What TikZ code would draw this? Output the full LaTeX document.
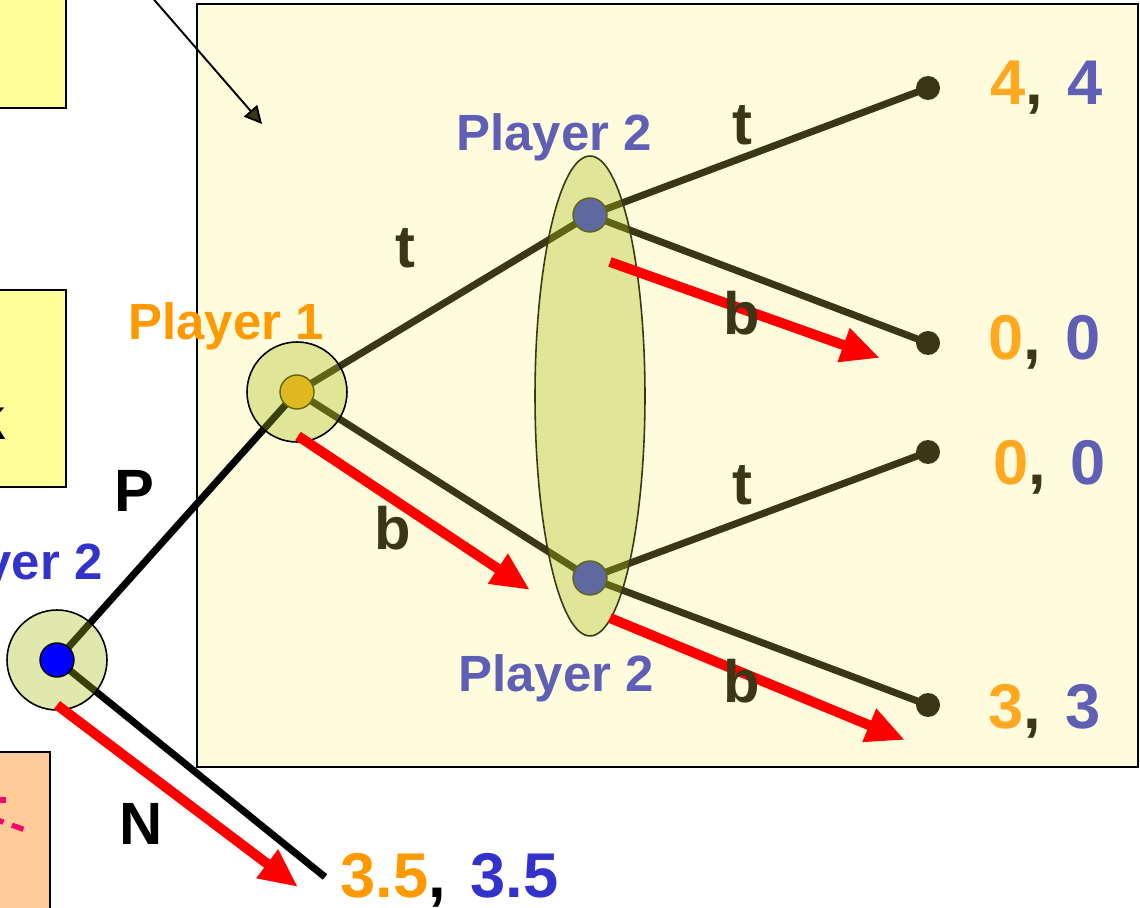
\documentclass[tikz,border=0pt]{standalone}
\usepackage{fontspec}
\setmainfont{Liberation Sans}
\usetikzlibrary{arrows.meta,shapes.geometric,backgrounds}
\definecolor{branchdark}{HTML}{3B3616}
\definecolor{boxcream}{HTML}{FFFCDD}
\definecolor{noteyellow}{HTML}{FFFF99}
\definecolor{noteorange}{HTML}{FFCC99}
\definecolor{notepink}{HTML}{FF0066}
\definecolor{discgreen}{HTML}{A5BC10}
\definecolor{rootblue}{HTML}{3333CC}
\definecolor{onegold}{HTML}{E0B820}
\definecolor{twoslate}{HTML}{6068A0}
\definecolor{dotrim}{HTML}{5F6614}
\definecolor{payorange}{HTML}{FFA820}
\definecolor{payblue}{HTML}{5F5FB5}
\definecolor{oneorange}{HTML}{FF9900}
\tikzset{every node/.append style={font=\bfseries}}
\newcommand{\paysep}{,\hspace{14pt}}

\begin{document}
\begin{tikzpicture}[x=.02cm,y=-.02cm,
  branch/.style={line width=4pt,branchdark},
  move/.style={line width=4pt,black},
  best/.style={-{Triangle[length=22pt,width=19pt]},line width=5.7pt,red},
  disc/.style={circle,fill=discgreen,fill opacity=.34,draw=black,line width=.9pt,minimum size=2cm,inner sep=0},
  infoset/.style={ellipse,fill=discgreen,fill opacity=.34,draw=branchdark,line width=.9pt,minimum width=2.2cm,minimum height=9.6cm,inner sep=0},
  dot/.style={circle,draw=dotrim,line width=.8pt,minimum size=.68cm,inner sep=0},
  leaf/.style={circle,fill=branchdark,minimum size=.48cm,inner sep=0},
  lbl/.style={font=\fontsize{34}{40}\selectfont\bfseries,inner sep=0,anchor=base},
  pay/.style={font=\fontsize{36}{42}\selectfont\bfseries,inner sep=0,anchor=base west},
  who/.style={font=\fontsize{29}{34}\selectfont\bfseries,inner sep=0,anchor=base}]
  \useasboundingbox (0,0) rectangle (1140,908);
  % cut-off notes on the left edge
  \draw[fill=noteyellow,line width=1.2pt] (-30,-30) rectangle (66,108);
  \draw[fill=noteyellow,line width=1.2pt] (-30,290) rectangle (66,487);
  \node[lbl,anchor=base east] (cutk) at (6,440) {k};
  \draw[fill=noteorange,line width=1.2pt] (-30,752) rectangle (50,940);
  \draw[notepink,line width=3pt,dash pattern=on 8pt off 6pt] (-30,800) -- (6,800);
  \draw[notepink,line width=3pt,dash pattern=on 7pt off 5pt] (-8,818) -- (28,831);
  % pointer into the subgame box
  \coordinate (ptrfrom) at (150,-5);
  \coordinate (ptrto) at (262,124);

  % decision nodes
  \node[disc] (rootdisc) at (57,660) {};
  \node[dot,fill=blue,draw=black] (root) at (57,660) {};
  \node[disc] (onedisc) at (297,392) {};
  \node[dot,fill=onegold] (one) at (297,392) {};
  \node[infoset] (info) at (590,396) {};
  \node[dot,fill=twoslate] (twotop) at (590,215) {};
  \node[dot,fill=twoslate] (twobot) at (590,578) {};
  \node[leaf] (tt) at (928,88) {};
  \node[leaf] (tb) at (928,343) {};
  \node[leaf] (bt) at (928,452) {};
  \node[leaf] (bb) at (928,705) {};
  \coordinate (nend) at (325,877);

  \begin{pgfonlayer}{background}
    \draw[fill=boxcream,line width=1.2pt] (197,4) rectangle (1138,767);
    \draw[line width=1.1pt,-{Triangle[length=10pt,width=10pt,fill=branchdark]}] (ptrfrom) -- (ptrto);
    \draw[move] (root.center) -- (one.center);
    \draw[move] (root.center) -- (nend);
    \draw[branch] (one.center) -- (twotop.center);
    \draw[branch] (one.center) -- (twobot.center);
    \draw[branch] (twotop.center) -- (tt.center);
    \draw[branch] (twotop.center) -- (tb.center);
    \draw[branch] (twobot.center) -- (bt.center);
    \draw[branch] (twobot.center) -- (bb.center);
  \end{pgfonlayer}

  % equilibrium moves
  \coordinate (r1) at (57,705);  \coordinate (r2) at (298,887);
  \coordinate (r3) at (298,436); \coordinate (r4) at (530,590);
  \coordinate (r5) at (610,262); \coordinate (r6) at (880,358);
  \coordinate (r7) at (610,618); \coordinate (r8) at (905,740);
  \draw[best] (r1) -- (r2);
  \draw[best] (r3) -- (r4);
  \draw[best] (r5) -- (r6);
  \draw[best] (r7) -- (r8);

  % labels
  \node[who,rootblue,anchor=base east] (rootname) at (103,580) {Player 2};
  \node[who,oneorange] (onename) at (226,340) {Player 1};
  \node[who,payblue] (toptwoname) at (554,151) {Player 2};
  \node[who,payblue] (bottwoname) at (556,692) {Player 2};
  \node[lbl] (labp) at (134,512) {P};
  \node[lbl] (labn) at (141,845) {N};
  \node[lbl,branchdark] (labt) at (405,268) {t};
  \node[lbl,branchdark] (labb) at (393,550) {b};
  \node[lbl,branchdark] (labtt) at (742,145) {t};
  \node[lbl,branchdark] (labtb) at (742,335) {b};
  \node[lbl,branchdark] (labbt) at (742,505) {t};
  \node[lbl,branchdark] (labbb) at (742,703) {b};
  \node[pay,branchdark] (paytt) at (990,105) {\textcolor{payorange}{4}\paysep\textcolor{payblue}{4}};
  \node[pay,branchdark] (paytb) at (988,360) {\textcolor{payorange}{0}\paysep\textcolor{payblue}{0}};
  \node[pay,branchdark] (paybt) at (993,485) {\textcolor{payorange}{0}\paysep\textcolor{payblue}{0}};
  \node[pay,branchdark] (paybb) at (988,728) {\textcolor{payorange}{3}\paysep\textcolor{payblue}{3}};
  \node[pay] (payn) at (340,897) {\textcolor{oneorange}{3.5}\paysep\textcolor{rootblue}{3.5}};
\end{tikzpicture}
\end{document}
